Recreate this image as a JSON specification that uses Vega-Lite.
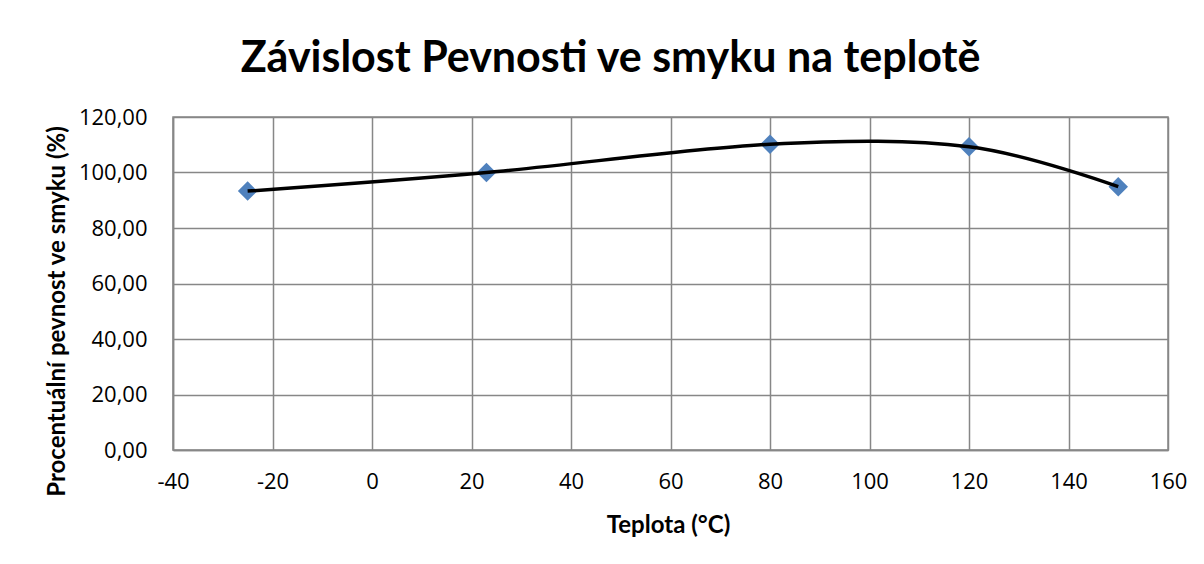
{
  "$schema": "https://vega.github.io/schema/vega-lite/v6.json",
  "autosize": "none",
  "padding": {"left": 173, "top": 117, "right": 36, "bottom": 114},
  "width": 995,
  "height": 333,
  "background": "white",
  "title": {
    "text": "Závislost Pevnosti ve smyku na teplotě",
    "font": "Lato",
    "fontSize": 43,
    "fontWeight": "bold",
    "color": "black",
    "anchor": "middle",
    "frame": "group",
    "baseline": "alphabetic",
    "offset": 44,
    "dy": 53,
    "dx": -60
  },
  "config": {
    "view": {"stroke": "#878787", "strokeWidth": 1.5},
    "axis": {
      "gridColor": "#878787",
      "gridWidth": 1.5,
      "gridOpacity": 1,
      "domainColor": "#878787",
      "domainWidth": 1.5,
      "ticks": false,
      "labelFont": "Open Sans",
      "labelFontSize": 22,
      "labelColor": "black",
      "titleFont": "Lato",
      "titleFontSize": 24,
      "titleFontWeight": "bold",
      "titleColor": "black"
    }
  },
  "data": {
    "values": [
      {"teplota": -25, "pevnost": 93.3},
      {"teplota": 23, "pevnost": 100.0},
      {"teplota": 80, "pevnost": 110.2},
      {"teplota": 120, "pevnost": 109.3},
      {"teplota": 150, "pevnost": 94.9}
    ]
  },
  "encoding": {
    "x": {
      "field": "teplota",
      "type": "quantitative",
      "scale": {"domain": [-40, 160], "nice": false, "zero": false},
      "axis": {
        "title": "Teplota (°C)",
        "values": [-40, -20, 0, 20, 40, 60, 80, 100, 120, 140, 160],
        "labelExpr": "toString(datum.value)",
        "labelPadding": 21,
        "labelFlush": false,
        "titleBaseline": "alphabetic",
        "titleY": 82,
        "titleX": 495
      }
    },
    "y": {
      "field": "pevnost",
      "type": "quantitative",
      "scale": {"domain": [0, 120], "nice": false},
      "axis": {
        "title": "Procentuální pevnost ve smyku (%)",
        "values": [0, 20, 40, 60, 80, 100, 120],
        "labelExpr": "replace(format(datum.value, '.2f'), '.', ',')",
        "labelPadding": 26,
        "labelFlush": false,
        "titleAngle": -90,
        "titleAlign": "center",
        "titleBaseline": "alphabetic",
        "titleX": -109,
        "titleY": 194
      }
    }
  },
  "layer": [
    {
      "mark": {"type": "point", "shape": "diamond", "filled": true, "size": 380, "color": "#4F81BD", "opacity": 1}
    },
    {
      "mark": {"type": "line", "interpolate": "cardinal", "tension": 0, "color": "black", "strokeWidth": 3.5}
    }
  ]
}
